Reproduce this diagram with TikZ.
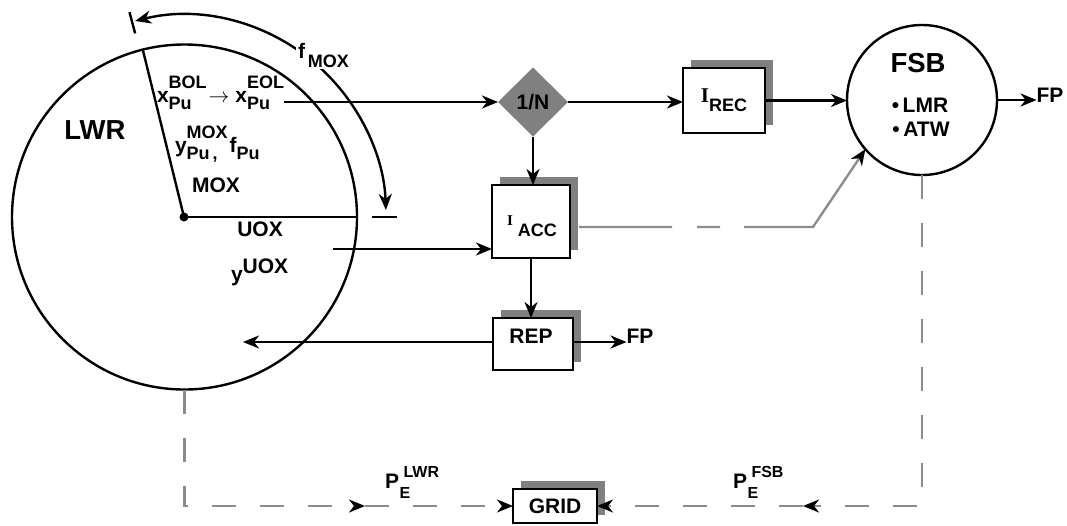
\documentclass[tikz,border=0pt]{standalone}
\usepackage{fontspec}
\setmainfont{Liberation Sans}
\newfontfamily\serifb{Liberation Serif}
\usetikzlibrary{arrows.meta,shapes.geometric,shadows,calc}
\newcommand\ssc[3]{#1\raisebox{-7pt}{\fontsize{18}{21}\selectfont\begin{tabular}[b]{@{}l@{}}#2\\#3\end{tabular}}}
\newcommand\pss[3]{#1\kern0.5pt\raisebox{-10pt}{\fontsize{16}{21}\selectfont\begin{tabular}[b]{@{}l@{}}\kern4pt #2\\#3\end{tabular}}}
\begin{document}
\begin{tikzpicture}[x=1pt,y=-1pt,font=\fontsize{21}{25}\selectfont\bfseries,
  ln/.style={line width=2.4pt},
  arr/.style={line width=2.4pt,-{Stealth[length=16pt,width=13pt,inset=5pt]}},
  gl/.style={line width=2.4pt,draw=gray!90,dash pattern=on 24pt off 24pt,-{Stealth[black,length=16pt,width=13pt,inset=5pt]}},
  box/.style={draw,line width=2.4pt,fill=white,inner sep=0pt,outer sep=0pt,
    drop shadow={opacity=1,fill=gray,shadow xshift=8pt,shadow yshift=8pt}},
  txt/.style={inner sep=0pt,outer sep=0pt}]
\useasboundingbox (0,0) rectangle (1067,525);
% LWR
\node[circle,draw,line width=2.4pt,minimum size=345pt,inner sep=0pt,outer sep=0pt] (LWR) at (184.5,217) {};
\coordinate (ctr) at (184,217);
\fill (ctr) circle[radius=4.5pt];
\draw[ln] (ctr) -- (LWR.104.9);
\draw[ln] (ctr) -- (ctr -| LWR.east);
\draw[ln] ($(ctr)+(104.9:190pt)$) -- ($(ctr)+(104.9:212pt)$);
\draw[line width=2.4pt,{Stealth[length=16pt,width=13pt,inset=5pt]}-{Stealth[length=16pt,width=13pt,inset=5pt]}]
  ($(ctr)+(104:202pt)$) arc[start angle=104,end angle=2,radius=202pt];
\coordinate (tk1) at (372,217); \coordinate (tk2) at (397,217);
\draw[ln] (tk1) -- (tk2);
\node[txt,fill=white,inner sep=2pt,anchor=base west] (fmox) at (296,58) {f\hspace{3pt}\raisebox{-9pt}{\fontsize{18}{18}\selectfont MOX}};
\node[txt,font=\fontsize{27.5}{30}\selectfont\bfseries] (lwrt) at (95,130) {LWR};
\node[txt,anchor=base west] (xline) at (157,102) {\ssc{x}{BOL}{Pu}\hspace{2pt}$\rightarrow$\hspace{6pt}\ssc{x}{EOL}{Pu}};
\node[txt,anchor=base west] (yline) at (175,152) {\ssc{y}{MOX}{Pu\,,}\hspace{2pt}f\raisebox{-7pt}{\fontsize{18}{18}\selectfont Pu}};
\node[txt] (moxt) at (216,185) {MOX};
\node[txt] (uoxt) at (260,229) {UOX};
\node[txt,anchor=base west] (yuox) at (231,281) {y\raisebox{8pt}{UOX}};
\coordinate (xe) at (284,102);
\coordinate (uoxe) at (333,249);
\coordinate (lwrin) at (243,342);
% blocks
\node[diamond,fill=gray,inner sep=0pt,outer sep=0pt,minimum width=70pt,minimum height=69pt] (ovn) at (533,102) {1/N};
\node[box,minimum width=82pt,minimum height=65pt] (irec) at (724,100.5) {{\serifb I}\raisebox{-9pt}{\fontsize{18}{18}\selectfont REC}};
\node[box,minimum width=78pt,minimum height=73pt] (iacc) at (531,221.5) {};
\node[txt] (iacct) at (532,226.2) {{\serifb\fontsize{15}{15}\selectfont I}\hspace{5pt}\raisebox{-11pt}{\fontsize{18}{18}\selectfont ACC}};
\node[box,minimum width=80pt,minimum height=52pt] (rep) at (533,344) {};
\node[txt] (rept) at (531,336.5) {REP};
\node[box,minimum width=84pt,minimum height=34pt] (grid) at (555,506) {GRID};
\node[circle,draw,line width=2.4pt,minimum size=150pt,inner sep=0pt,outer sep=0pt] (FSB) at (922,100) {};
\node[txt,font=\fontsize{27.5}{30}\selectfont\bfseries] (fsbt) at (918,63) {FSB};
\node[txt] (lmr) at (920,105) {\textbullet\,LMR};
\node[txt] (atw) at (921,129) {\textbullet\,ATW};
\node[txt] (fp1) at (1050,95.5) {FP};
\node[txt] (fp2) at (640,336) {FP};
\node[txt,anchor=base west] (pelwr) at (385,488) {\pss{P}{LWR}{E}};
\node[txt,anchor=base west] (pefsb) at (733,488) {\pss{P}{FSB}{E}};
% connectors
\draw[arr] (xe) -- (xe -| ovn.west);
\draw[arr] (ovn.east) -- (ovn.east -| irec.west);
\draw[arr] (irec.east) -- (irec.east -| FSB.west);
\draw[arr] (FSB.east) -- (FSB.east -| fp1.west);
\draw[arr] (ovn.south) -- (ovn.south |- iacc.north);
\draw[arr] (uoxe) -- (uoxe -| iacc.west);
\draw[arr] (iacc.south) -- (iacc.south |- rep.north);
\draw[arr] (lwrin -| rep.west) -- (lwrin);
\draw[arr] (lwrin -| rep.east) -- (lwrin -| fp2.west);
\coordinate (bend) at (813,227);
\draw[line width=2.4pt,draw=gray!90,dash pattern=on 93pt off 25pt on 23pt off 24pt on 600pt,-{Stealth[black,length=16pt,width=13pt,inset=5pt]}]
  ([xshift=9pt,yshift=-5.5pt]iacc.east) -- (bend) -- (FSB.221);
\coordinate (lmid) at (365,506);
\coordinate (fmid) at (803,506);
\draw[gl] (LWR.south) |- (lmid);
\draw[gl] (lmid) -- (grid.west);
\draw[gl] (FSB.south) |- (fmid);
\draw[gl] (fmid) -- (grid.east);
\end{tikzpicture}
\end{document}
